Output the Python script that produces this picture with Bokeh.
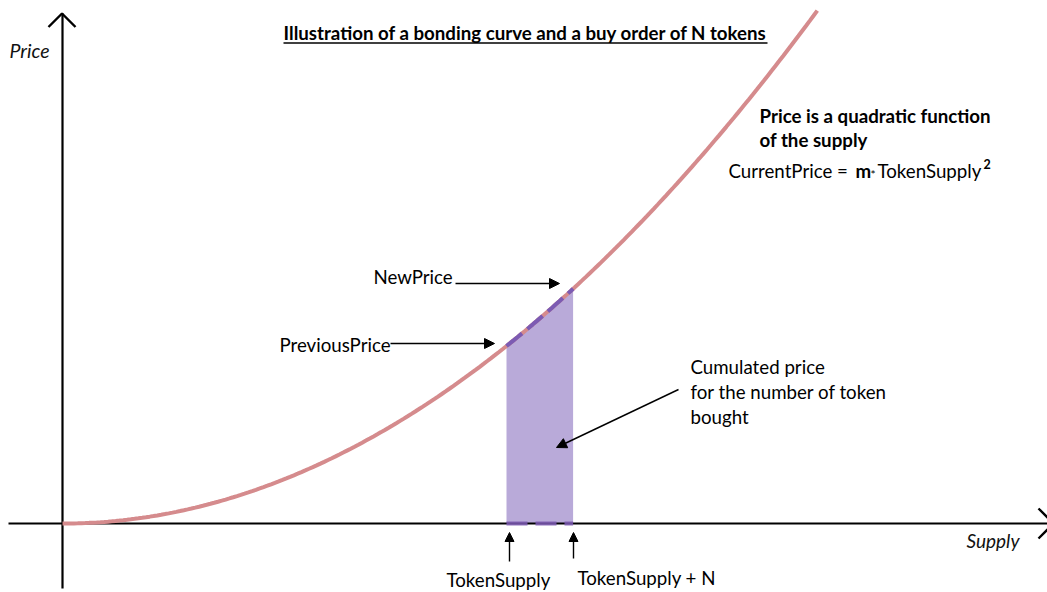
import numpy as np
from bokeh.plotting import figure
from bokeh.models import Arrow, NormalHead, Range1d
from bokeh.core.properties import value
from bokeh.embed import file_html
from bokeh.resources import INLINE

# ---- data ----
m_coef = 1.0                 # CurrentPrice = m * TokenSupply^2
token_supply = 6.0           # supply before the buy order
n_tokens = 0.9               # tokens bought (N)
supply_max = 10.2            # extent of the drawn curve
supply = np.linspace(0.0, supply_max, 200)
price = m_coef * supply ** 2

title_text = "Illustration of a bonding curve and a buy order of N tokens"
note_lines = ["Price is a quadratic function", "of the supply"]
cum_lines = ["Cumulated price", "for the number of token", "bought"]

# ---- layout helpers (reference pixel -> data) ----
X0, Y0 = 62.0, 523.0      # origin in page pixels
SX, SY = 74.0, 4.93       # pixels per data unit
BL = 7.0                  # baseline correction of rendered text


def fx(px):
    return (px - X0) / SX


def fy(py):
    return (Y0 - py) / SY


def fb(py):
    return fy(py - BL)


W, H = 1047, 592
p = figure(width=W, height=H, output_backend="svg", toolbar_location=None,
           x_range=Range1d(fx(0), fx(W)), y_range=Range1d(fy(H), fy(0)),
           min_border=0, background_fill_color="white", border_fill_color="white")
p.axis.visible = False
p.grid.visible = False
p.outline_line_color = None

FONT = value("Lato")
FS = "18.7px"
CURVE = "#d58b8d"
FILL = "#b9aad9"
PURPLE = "#7c5bb3"

# filled area under the curve for the purchase
xs = supply[(supply >= token_supply) & (supply <= token_supply + n_tokens)]
xs = np.concatenate([[token_supply], xs, [token_supply + n_tokens]])
p.varea(x=xs, y1=np.zeros_like(xs), y2=m_coef * xs ** 2, fill_color=FILL)

# axes
p.line([fx(8), fx(1047)], [0, 0], line_color="black", line_width=2.2)
p.line([0, 0], [fy(588), fy(13)], line_color="black", line_width=2.2)
p.line([fx(48), fx(61.5), fx(75)], [fy(26.5), fy(13), fy(26.5)],
       line_color="black", line_width=2.4)
p.line([fx(1038), fx(1053), fx(1038)], [fy(508), fy(523), fy(538)],
       line_color="black", line_width=2.4)

# curve
p.line(supply, price, line_color=CURVE, line_width=4)

# purple dashed segments on curve and axis
p.line(xs, m_coef * xs ** 2, line_color=PURPLE, line_width=4, line_dash="20 7")
p.line([token_supply, token_supply + n_tokens], [0, 0], line_color=PURPLE,
       line_width=4, line_dash="21 8", line_alpha=0.85)

# title with underline
p.text(x=[fx(525)], y=[fb(39)], text=[title_text], text_font=FONT,
       text_font_size=FS, text_font_style="bold", text_align="center",
       text_baseline="alphabetic", text_color="black")
p.line([fx(283), fx(767)], [fy(42.5), fy(42.5)], line_color="black", line_width=1.5)

# axis labels
p.text(x=[fx(9)], y=[fb(57)], text=["Price"], text_font=FONT, text_font_size="19.5px",
       text_font_style="italic", text_baseline="alphabetic", text_color="#111111")
p.text(x=[fx(966)], y=[fb(547)], text=["Supply"], text_font=FONT, text_font_size="19px",
       text_font_style="italic", text_baseline="alphabetic", text_color="#111111")

# quadratic note
p.text(x=[fx(759), fx(759)], y=[fb(122), fb(146)], text=note_lines, text_font=FONT,
       text_font_size=FS, text_font_style="bold", text_baseline="alphabetic",
       text_color="black")
p.text(x=[fx(728)], y=[fb(177)], text=["CurrentPrice ="], text_font=FONT,
       text_font_size=FS, text_baseline="alphabetic", text_color="black")
p.text(x=[fx(855)], y=[fb(177)], text=["m"], text_font=FONT, text_font_size=FS,
       text_font_style="bold", text_baseline="alphabetic", text_color="black")
p.text(x=[fx(870)], y=[fb(181)], text=["*"], text_font=FONT, text_font_size="12px",
       text_baseline="alphabetic", text_color="black")
p.text(x=[fx(877)], y=[fb(177)], text=["TokenSupply"], text_font=FONT,
       text_font_size=FS, text_baseline="alphabetic", text_color="black")
p.text(x=[fx(983)], y=[fb(170)], text=["2"], text_font=FONT, text_font_size="12.5px",
       text_font_style="bold", text_baseline="alphabetic", text_color="black")

# price labels with arrows
p.text(x=[fx(373)], y=[fb(283)], text=["NewPrice"], text_font=FONT, text_font_size=FS,
       text_baseline="alphabetic", text_color="black")
p.text(x=[fx(279)], y=[fb(351)], text=["PreviousPrice"], text_font=FONT,
       text_font_size=FS, text_baseline="alphabetic", text_color="black")


def arrow(x0, y0, x1, y1, size=10, width=1.4):
    p.add_layout(Arrow(end=NormalHead(size=size, fill_color="black", line_color="black",
                                      line_width=1),
                       x_start=x0, y_start=y0, x_end=x1, y_end=y1,
                       line_color="black", line_width=width))


arrow(fx(455), fy(283), fx(559), fy(283))
arrow(fx(390), fy(343), fx(494), fy(343))
arrow(fx(678), fy(389), fx(556), fy(447))
arrow(fx(509), fy(561), fx(509), fy(532), size=9)
arrow(fx(573), fy(558), fx(573), fy(532), size=9)

# cumulated label
p.text(x=[fx(690)] * 3, y=[fb(373), fb(398), fb(423)], text=cum_lines, text_font=FONT,
       text_font_size=FS, text_baseline="alphabetic", text_color="black")

# supply labels
p.text(x=[fx(446)], y=[fb(586)], text=["TokenSupply"], text_font=FONT,
       text_font_size=FS, text_baseline="alphabetic", text_color="black")
p.text(x=[fx(577)], y=[fb(584)], text=["TokenSupply + N"], text_font=FONT,
       text_font_size=FS, text_baseline="alphabetic", text_color="black")

open("out.html", "w").write(file_html(p, INLINE))
